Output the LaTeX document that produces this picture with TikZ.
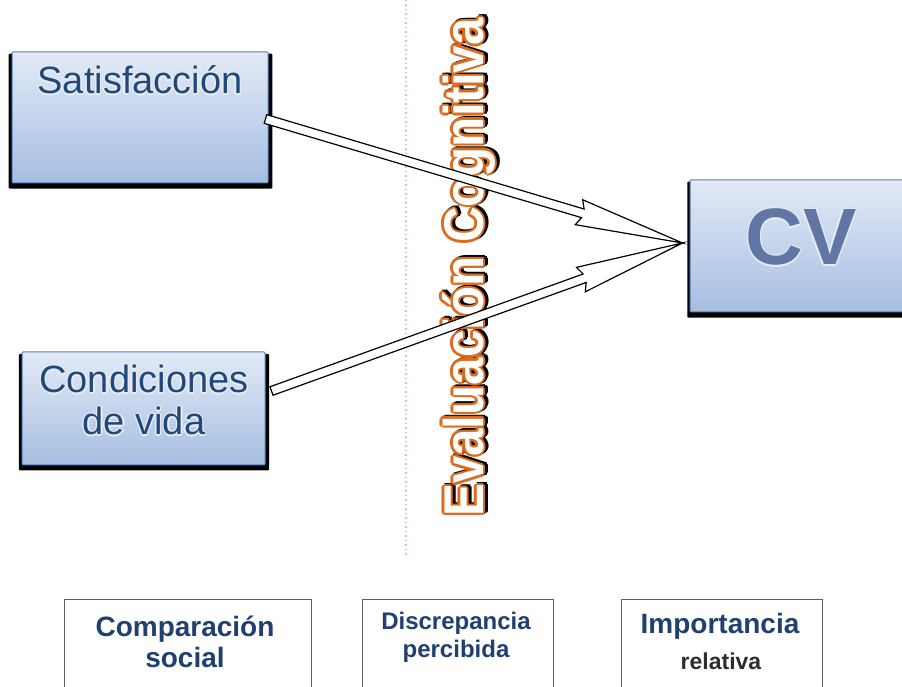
\documentclass[tikz,border=0pt]{standalone}
\usepackage{fontspec}
\usepackage{graphicx}
\setmainfont{Liberation Sans}
\usetikzlibrary{calc,shadows}

\definecolor{boxtop}{RGB}{226,234,246}
\definecolor{boxbot}{RGB}{166,190,225}
\definecolor{boxline}{RGB}{79,129,189}
\definecolor{darkblue}{RGB}{31,73,125}
\definecolor{navy}{RGB}{31,64,112}
\definecolor{cvblue}{RGB}{96,118,165}
\definecolor{evorange}{RGB}{218,108,32}
\definecolor{glow}{RGB}{232,236,240}
\definecolor{dotcyan}{RGB}{160,214,226}
\definecolor{framegray}{RGB}{96,96,96}
\definecolor{relgray}{RGB}{45,45,45}

\newdimen\glowd
\newdimen\glowe
\newbox\txtS
\newbox\txtO
\newbox\txtF

% eight copies of a box around a point, radius #2, shifted by (#3,#4)
\newcommand\ringcopies[4]{%
  \glowd=#2\relax \glowe=0.7071\glowd
  \rlap{\kern\dimexpr#3+\glowd\relax\raisebox{#4}{\copy#1}}%
  \rlap{\kern\dimexpr#3-\glowd\relax\raisebox{#4}{\copy#1}}%
  \rlap{\kern#3\raisebox{\dimexpr#4+\glowd\relax}{\copy#1}}%
  \rlap{\kern#3\raisebox{\dimexpr#4-\glowd\relax}{\copy#1}}%
  \rlap{\kern\dimexpr#3+\glowe\relax\raisebox{\dimexpr#4+\glowe\relax}{\copy#1}}%
  \rlap{\kern\dimexpr#3-\glowe\relax\raisebox{\dimexpr#4+\glowe\relax}{\copy#1}}%
  \rlap{\kern\dimexpr#3+\glowe\relax\raisebox{\dimexpr#4-\glowe\relax}{\copy#1}}%
  \rlap{\kern\dimexpr#3-\glowe\relax\raisebox{\dimexpr#4-\glowe\relax}{\copy#1}}%
}
% #1 text, #2 fill, #3 outline colour, #4 outline radius, #5 shadow colour, #6 #7 shadow shift
\newcommand\fancytext[7]{\begingroup
  \setbox\txtS=\hbox{\color{#5}#1}%
  \setbox\txtO=\hbox{\color{#3}#1}%
  \setbox\txtF=\hbox{\color{#2}#1}%
  \ringcopies\txtS{#4}{#6}{#7}%
  \ringcopies\txtO{#4}{0pt}{0pt}%
  \box\txtF\endgroup}
\newcommand\glowtext[1]{\fancytext{#1}{darkblue}{glow}{1.3pt}{glow}{0pt}{0pt}}

\tikzset{
  bluebox/.style={draw=boxline, line width=1pt, top color=boxtop, bottom color=boxbot,
    inner sep=0pt, rounded corners=1pt,
    general shadow={fill=black, shadow xshift=0.5pt, shadow yshift=-3.5pt, shadow scale=1.03}},
  whitebox/.style={draw=framegray, line width=1pt, fill=white, inner sep=0pt},
  boxlabel/.style={inner sep=0pt, anchor=base, font=\fontsize{38}{42}\selectfont},
  smalllabel/.style={inner sep=0pt, anchor=base, text=navy, font=\bfseries\fontsize{#1}{#1}\selectfont},
  hollow/.style={draw=black, line width=1.2pt, fill=white, line join=miter},
}

\newcommand\hollowarrow[2]{%
  \coordinate (hb) at ($(#2)!108pt!(#1)$);
  \coordinate (hn) at ($(#2)!104pt!(#1)$);
  \draw[hollow]
    ($(#1)!4.5pt!90:(#2)$) -- ($(hn)!4.5pt!90:(#2)$) -- ($(hb)!13pt!90:(#2)$) -- (#2)
    -- ($(hb)!13pt!-90:(#2)$) -- ($(hn)!4.5pt!-90:(#2)$) -- ($(#1)!4.5pt!-90:(#2)$) -- cycle;
}

\begin{document}
\begin{tikzpicture}[x=1pt,y=1pt]
\useasboundingbox (0,0) rectangle (902,687);

% blue boxes
\node[bluebox, minimum width=256pt, minimum height=131pt] (sat) at (140,569.5) {};
\node[bluebox, minimum width=243pt, minimum height=113pt] (cond) at (143.5,278.5) {};
\node[bluebox, minimum width=218pt, minimum height=132pt] (cv) at (799,441) {};

\node[boxlabel] (satlabel) at (140,593) {\glowtext{Satisfacción}};
\node[boxlabel] (condlabel) at (144,294) {\glowtext{Condiciones}};
\node[boxlabel] (condlabelb) at (144,252) {\glowtext{de vida}};
\node[inner sep=0pt, anchor=base, font=\bfseries\fontsize{80}{80}\selectfont] (cvlabel) at (801,422)
  {\fancytext{CV}{cvblue}{glow}{1.4pt}{glow}{0pt}{0pt}};

% dotted divider
\coordinate (dtop) at (406,687);
\coordinate (dbot) at (406,132);
\draw[dotcyan, line width=1.5pt, dash pattern=on 1.5pt off 3pt] (dtop) -- (dbot);

% rotated title
\node[inner sep=0pt, anchor=base, rotate=90, font=\bfseries\fontsize{56}{56}\selectfont] (evtitle) at (483,419.5)
  {\scalebox{0.88}[1]{\fancytext{Evaluación Cognitiva}{white}{evorange}{2.6pt}{black}{1.5pt}{-2.5pt}}};

% arrows
\coordinate (s1) at ($(sat.east)+(-3,-1.5)$);
\coordinate (s2) at ($(cond.east)+(6,17.5)$);
\coordinate (tip) at ($(cv.west)+(-7,3)$);
\hollowarrow{s1}{tip}
\hollowarrow{s2}{tip}

% bottom boxes
\node[whitebox, minimum width=247pt, minimum height=97pt] (comp) at (187.5,38.5) {};
\node[whitebox, minimum width=191pt, minimum height=97pt] (disc) at (457.5,38.5) {};
\node[whitebox, minimum width=201pt, minimum height=97pt] (imp) at (721.5,38.5) {};

\node[smalllabel=28] (comptext) at (185,50) {Comparación};
\node[smalllabel=28] (comptextb) at (185,19) {social};
\node[smalllabel=24] (disctext) at (456,57) {Discrepancia};
\node[smalllabel=24] (disctextb) at (456,29) {percibida};
\node[smalllabel=28] (imptext) at (720,53) {Importancia};
\node[smalllabel=23, text=relgray] (imptextb) at (721,17) {relativa};
\end{tikzpicture}
\end{document}
